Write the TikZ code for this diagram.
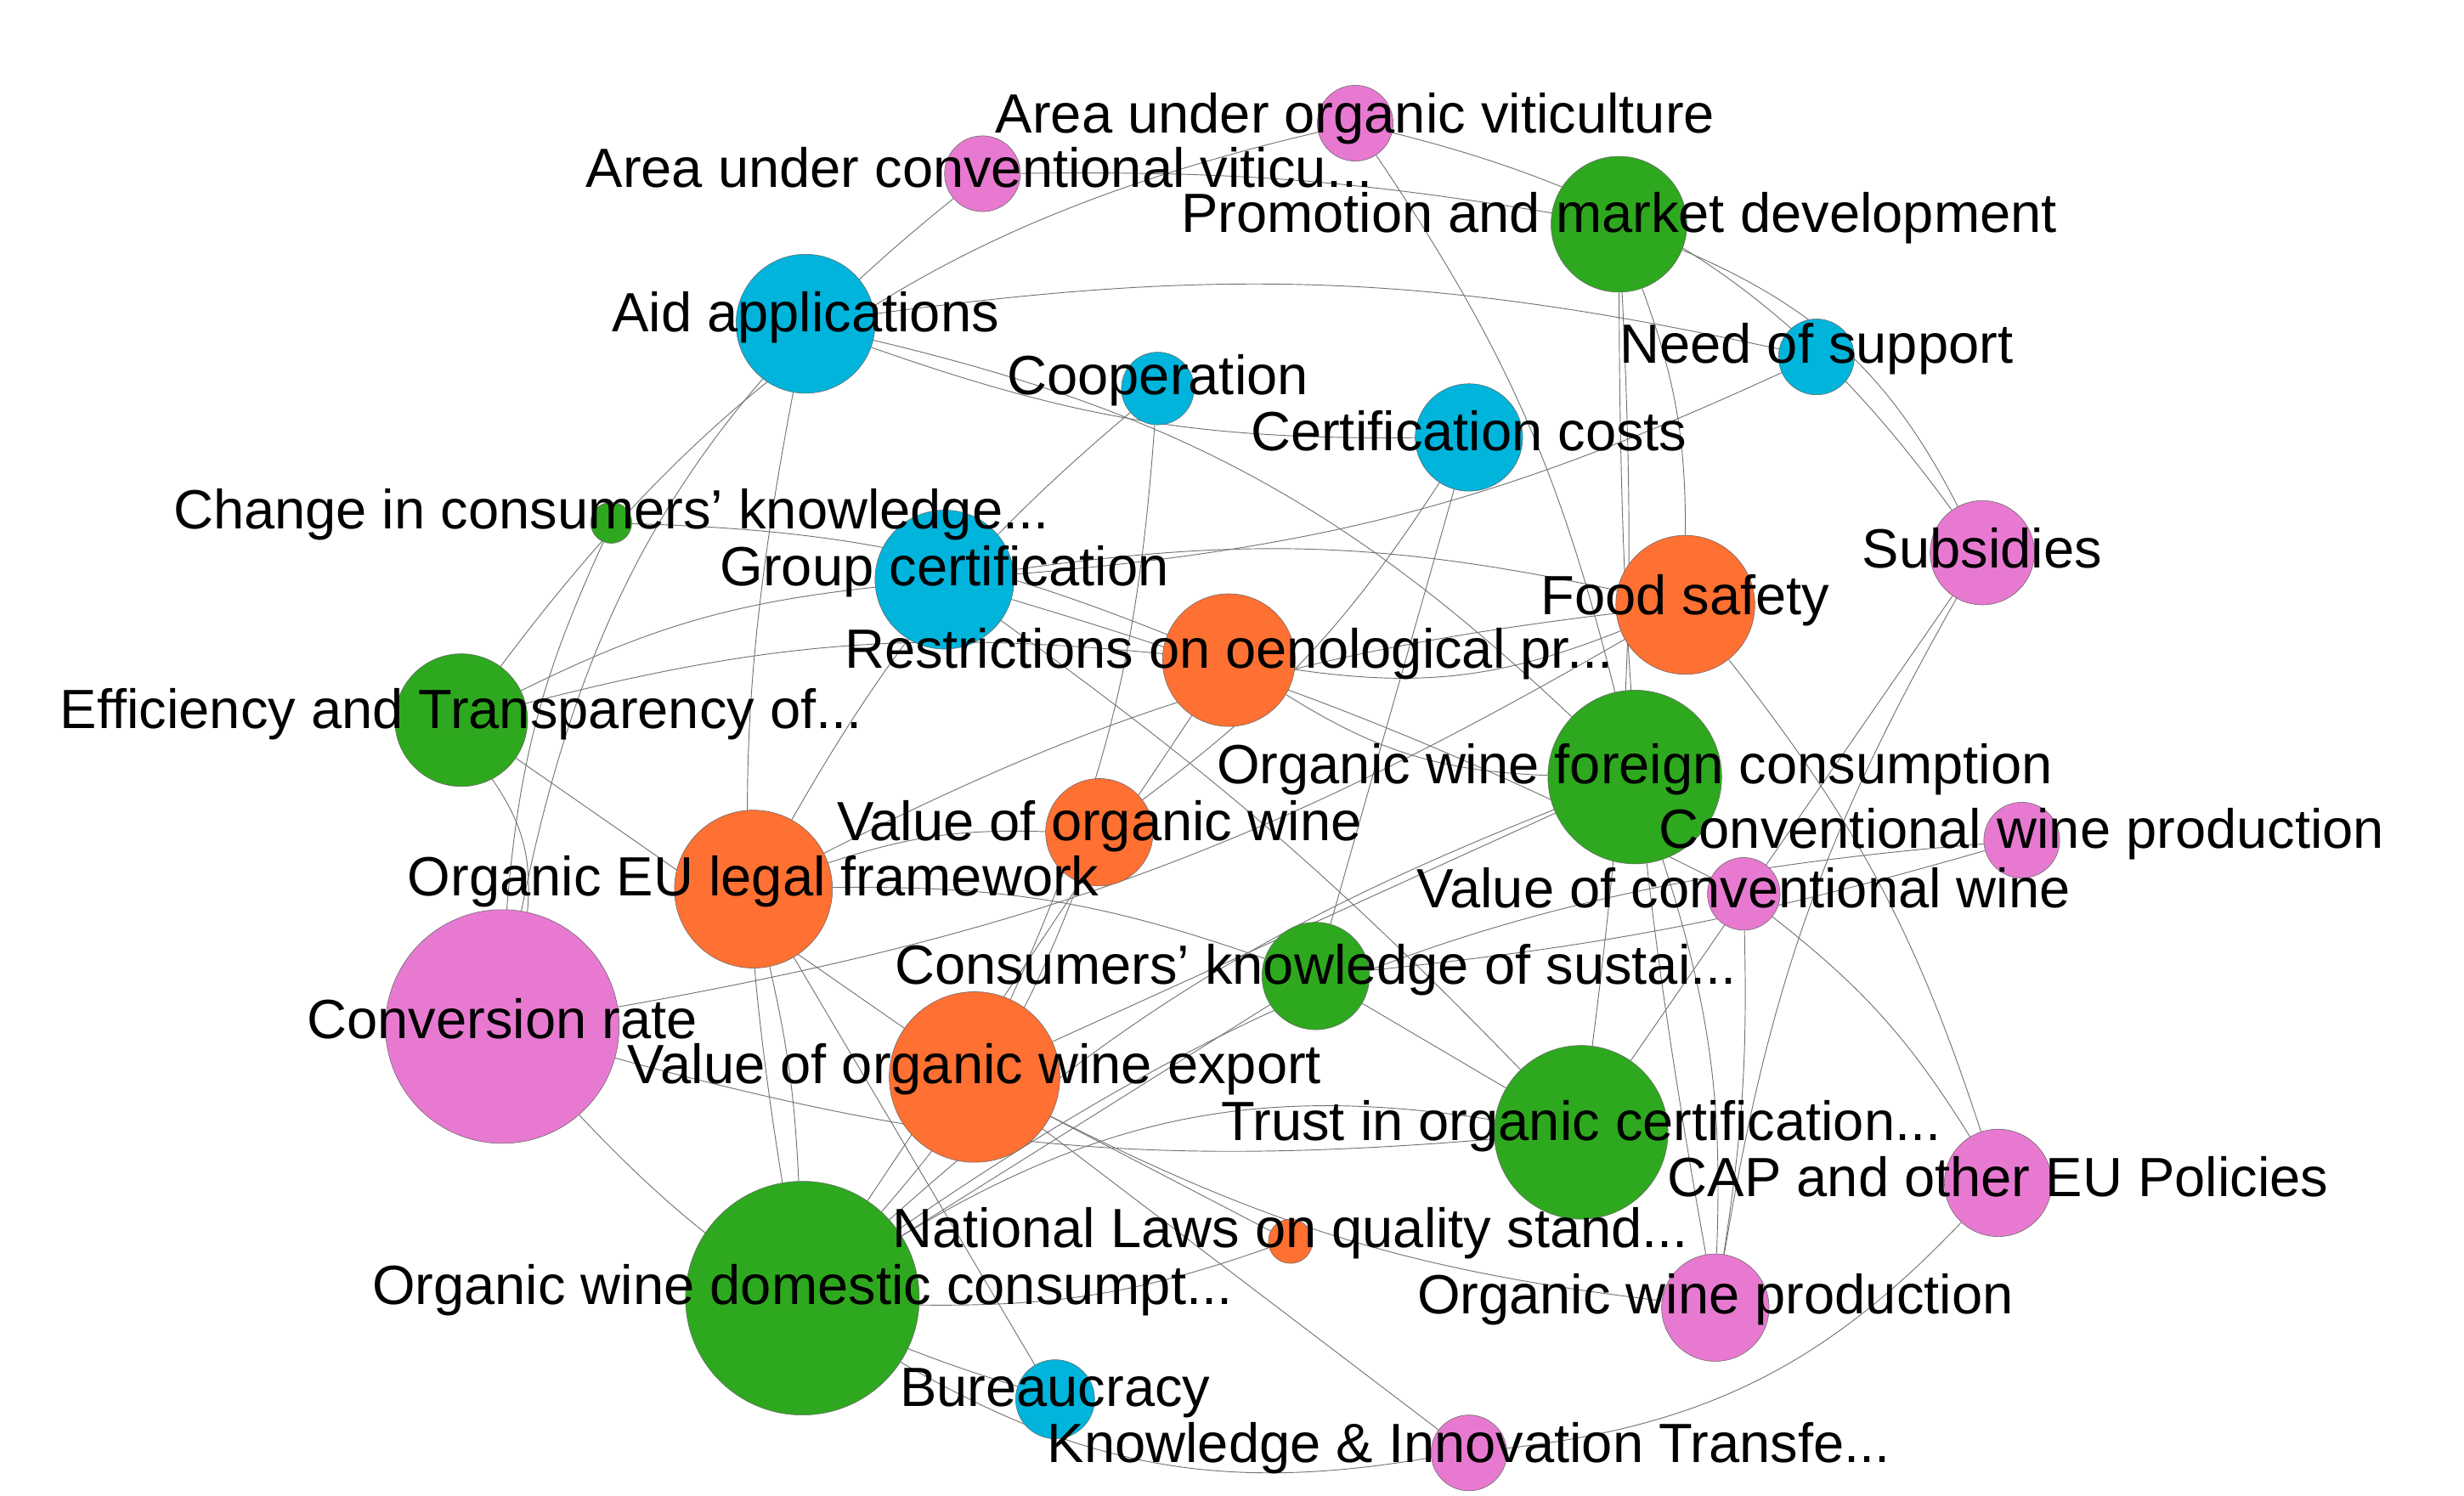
\documentclass[tikz,border=0pt]{standalone}
\usepackage{fontspec}
\setmainfont{Liberation Sans}
\definecolor{cg}{HTML}{2EA81E}
\definecolor{cb}{HTML}{00B4DC}
\definecolor{co}{HTML}{FF7033}
\definecolor{cp}{HTML}{E77AD0}
\begin{document}
\begin{tikzpicture}[x=1pt,y=-1pt,
 nd/.style={circle,inner sep=0pt,minimum size=#1*2pt},
 lb/.style={font=\fontsize{35}{35}\selectfont,inner sep=0pt,text=black},
 ed/.style={draw=black!55,line width=0.5pt}]
\useasboundingbox (0,0) rectangle (1560,947);
% nodes
\node[nd=24] (aov) at (858,78) {};
\node[nd=24] (acv) at (622,110) {};
\node[nd=43] (pmd) at (1025,142) {};
\node[nd=44] (aid) at (510,205) {};
\node[nd=24] (nos) at (1150,226) {};
\node[nd=23] (coo) at (733,246) {};
\node[nd=34] (cc) at (930,277) {};
\node[nd=13] (cck) at (387,331) {};
\node[nd=33] (sub) at (1255,350) {};
\node[nd=44] (gc) at (598,367) {};
\node[nd=44] (fs) at (1067,383) {};
\node[nd=42] (rop) at (778,418) {};
\node[nd=42] (eff) at (292,456) {};
\node[nd=55] (owf) at (1035,492) {};
\node[nd=34] (vow) at (696,527) {};
\node[nd=24] (cwp) at (1280,532) {};
\node[nd=50] (oel) at (477,563) {};
\node[nd=23] (vcw) at (1104,566) {};
\node[nd=34] (cks) at (833,618) {};
\node[nd=74] (cr) at (318,650) {};
\node[nd=54] (vox) at (617,682) {};
\node[nd=55] (toc) at (1001,717) {};
\node[nd=34] (cap) at (1265,749) {};
\node[nd=14] (nl) at (817,786) {};
\node[nd=74] (owd) at (508,822) {};
\node[nd=34] (owp) at (1086,828) {};
\node[nd=25] (bur) at (668,886) {};
\node[nd=24] (kit) at (930,920) {};
% edges
\path[ed]
 (aov) edge[bend right=20] (eff)
 (aov) edge[bend left=10] (owf)
 (aov) edge[bend left=20] (sub)
 (acv) edge[bend right=20] (cr)
 (acv) edge[bend left=5] (pmd)
 (aid) edge[bend left=10] (nos)
 (aid) edge[bend right=10] (cc)
 (aid) edge[bend right=10] (owd)
 (aid) edge[bend left=15] (owf)
 (pmd) edge[bend left=10] (fs)
 (pmd) edge[bend left=5] (toc)
 (pmd) edge[bend right=5] (owp)
 (pmd) edge[bend left=20] (sub)
 (nos) edge[bend left=10] (gc)
 (coo) edge[bend left=10] (vox)
 (coo) edge[bend right=10] (oel)
 (cc) edge (cks)
 (cc) edge[bend left=10] (vow)
 (cck) edge[bend right=10] (cr)
 (cck) edge[bend left=10] (rop)
 (gc) edge[bend left=10] (fs)
 (gc) edge[bend right=10] (eff)
 (gc) edge[bend left=5] (toc)
 (fs) edge[bend right=10] (oel)
 (fs) edge[bend left=10] (cap)
 (fs) edge[bend left=15] (rop)
 (rop) edge[bend right=10] (eff)
 (rop) edge (owd)
 (rop) edge[bend right=15] (owf)
 (eff) edge[bend left=20] (cr)
 (eff) edge (vox)
 (owf) edge[bend right=10] (owd)
 (owf) edge (vox)
 (owf) edge[bend left=10] (owp)
 (vow) edge[bend right=10] (oel)
 (vow) edge[bend left=10] (owd)
 (cwp) edge[bend right=15] (owd)
 (cwp) edge[bend left=5] (cks)
 (oel) edge[bend left=10] (cks)
 (oel) edge (bur)
 (oel) edge[bend left=5] (owd)
 (vcw) edge[bend left=10] (cap)
 (vcw) edge[bend left=5] (owp)
 (vcw) edge[bend right=5] (gc)
 (cks) edge (owd)
 (cks) edge (toc)
 (cr) edge[bend right=10] (toc)
 (cr) edge[bend right=15] (bur)
 (cr) edge[bend right=10] (fs)
 (vox) edge (nl)
 (vox) edge[bend right=10] (owp)
 (vox) edge (kit)
 (toc) edge[bend right=20] (owd)
 (toc) edge (sub)
 (cap) edge[bend left=20] (kit)
 (nl) edge[bend left=10] (owd)
 (sub) edge[bend right=10] (owp)
 (owd) edge[bend right=20] (kit);
% circles on top
\foreach \n/\c/\r in {aov/cp/24,acv/cp/24,pmd/cg/43,aid/cb/44,nos/cb/24,coo/cb/23,cc/cb/34,cck/cg/13,sub/cp/33,gc/cb/44,fs/co/44,rop/co/42,eff/cg/42,owf/cg/55,vow/co/34,cwp/cp/24,oel/co/50,vcw/cp/23,cks/cg/34,cr/cp/74,vox/co/54,toc/cg/55,cap/cp/34,nl/co/14,owd/cg/74,owp/cp/34,bur/cb/25,kit/cp/24}
 \fill[\c,draw=black!60,line width=0.3pt] (\n.center) circle (\r);
% labels
\node[lb] (t1) at (858,75) {Area under organic viticulture};
\node[lb] (t2) at (620,106) {Area under conventional viticu...};
\node[lb] (t3) at (1025,138) {Promotion and market development};
\node[lb] (t4) at (510,201) {Aid applications};
\node[lb] (t5) at (1150,221) {Need of support};
\node[lb] (t6) at (733,241) {Cooperation};
\node[lb] (t7) at (930,273) {Certification costs};
\node[lb] (t8) at (387,326) {Change in consumers' knowledge...};
\node[lb] (t9) at (1255,347) {Subsidies};
\node[lb] (t10) at (598,362) {Group certification};
\node[lb] (t11) at (1067,380) {Food safety};
\node[lb] (t12) at (778,414) {Restrictions on oenological pr...};
\node[lb] (t13) at (292,452) {Efficiency and Transparency of...};
\node[lb] (t14) at (1035,487) {Organic wine foreign consumption};
\node[lb] (t15) at (696,523) {Value of organic wine};
\node[lb] (t16) at (1280,528) {Conventional wine production};
\node[lb] (t17) at (477,558) {Organic EU legal framework};
\node[lb] (t18) at (1104,562) {Value of conventional wine};
\node[lb] (t19) at (833,614) {Consumers’ knowledge of sustai...};
\node[lb] (t20) at (318,645) {Conversion rate};
\node[lb] (t21) at (617,677) {Value of organic wine export};
\node[lb] (t22) at (1001,713) {Trust in organic certification...};
\node[lb] (t23) at (1265,745) {CAP and other EU Policies};
\node[lb] (t24) at (817,781) {National Laws on quality stand...};
\node[lb] (t25) at (508,817) {Organic wine domestic consumpt...};
\node[lb] (t26) at (1086,823) {Organic wine production};
\node[lb] (t27) at (668,882) {Bureaucracy};
\node[lb] (t28) at (930,917) {Knowledge \& Innovation Transfe...};
\end{tikzpicture}
\end{document}
